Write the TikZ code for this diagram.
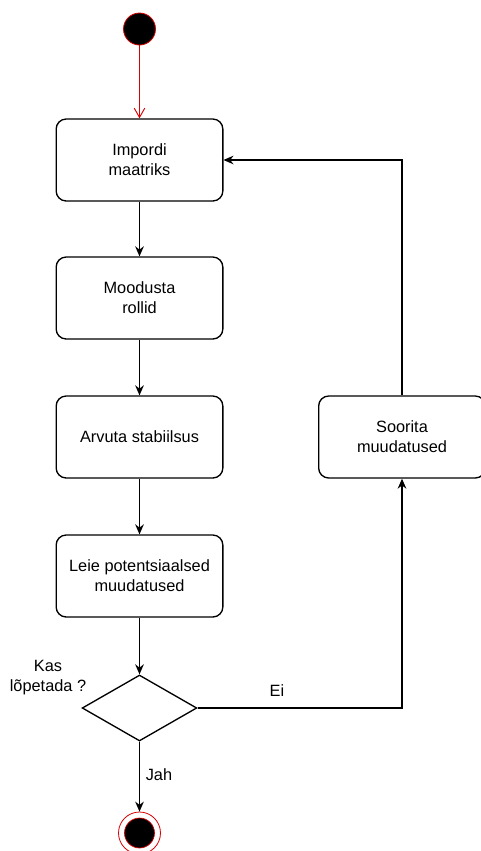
\documentclass[tikz,border=0pt]{standalone}
\usepackage{fontspec}
\setmainfont{Liberation Sans}
\usetikzlibrary{arrows.meta,shapes.geometric}

\begin{document}
\begin{tikzpicture}[x=0.75pt,y=-0.75pt,action/.style={rectangle,rounded corners=7.5pt,draw,line width=1pt,fill=white,minimum width=125pt,minimum height=61.5pt,inner sep=0pt,align=center,font=\fontsize{12.25}{15}\selectfont},choice/.style={diamond,draw,line width=1pt,fill=white,minimum width=86pt,minimum height=49.5pt,inner sep=0pt},flow/.style={line width=1pt,-{Stealth[length=7.5pt,width=6.5pt]}},tag/.style={font=\fontsize{12.25}{15}\selectfont,align=center}]
\useasboundingbox (0,0) rectangle (480,851);
\coordinate (S) at (139.5,29);
\coordinate (I) at (139.5,160);
\coordinate (M) at (139.5,298);
\coordinate (A) at (139.5,437);
\coordinate (L) at (139.5,576);
\coordinate (K) at (139.5,708);
\coordinate (R) at (402,437);
\coordinate (E) at (139.5,833);
\node[circle,draw=red!85!black,line width=0.6pt,fill=black,minimum size=24pt,inner sep=0pt] (start) at (S) {};
\node[action] (import) at (I) {Impordi\\maatriks};
\node[action] (roles) at (M) {Moodusta\\rollid};
\node[action] (stab) at (A) {Arvuta stabiilsus};
\node[action] (find) at (L) {Leie potentsiaalsed\\muudatused};
\node[choice] (stop) at (K) {};
\node[action] (apply) at (R) {Soorita\\muudatused};
\node[circle,draw=red!85!black,line width=0.6pt,fill=white,minimum size=31.5pt,inner sep=0pt] (end) at (E) {};
\node[circle,draw=red!85!black,line width=0.5pt,fill=black,minimum size=22.5pt,inner sep=0pt] (endcore) at (E) {};
\node[tag] (asklbl) at (48,678) {Kas\\lõpetada ?};
\node[tag] (nolbl) at (277,691) {Ei};
\node[tag] (yeslbl) at (159,775) {Jah};
\draw[line width=0.7pt,draw=red!85!black,-{Straight Barb[length=7pt,width=8pt,line width=0.7pt]}] (start) -- (import);
\draw[flow] (import) -- (roles);
\draw[flow] (roles) -- (stab);
\draw[flow] (stab) -- (find);
\draw[flow] (find) -- (stop);
\draw[flow] (stop) -- (end);
\draw[flow] (stop.east) -| (apply.south);
\draw[flow] (apply.north) |- (import.east);
\end{tikzpicture}
\end{document}
